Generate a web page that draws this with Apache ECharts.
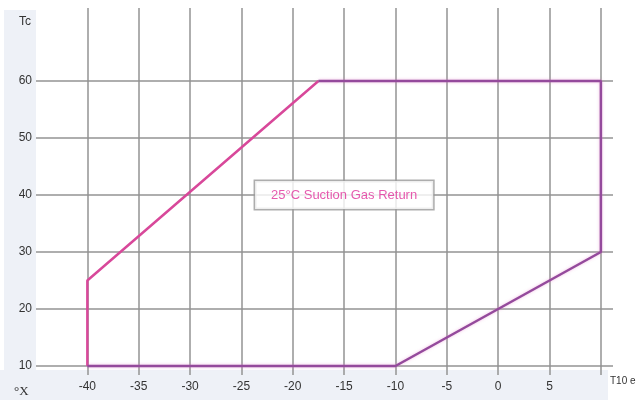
<!DOCTYPE html>
<html><head><meta charset="utf-8">
<script src="https://cdn.jsdelivr.net/npm/echarts@6/dist/echarts.min.js"></script>
<style>html,body{margin:0;padding:0;background:#fff}#c{width:638px;height:400px}</style>
</head><body><div id="c"></div>
<script>
const xTicks = [-40, -35, -30, -25, -20, -15, -10, -5, 0, 5, 10];
const xLabels = [-40, -35, -30, -25, -20, -15, -10, -5, 0, 5];
const yTicks = [10, 20, 30, 40, 50, 60];
const pinkPath = [[-40, 10], [-40, 25], [-17.5, 60]];
const purplePath = [[-17.5, 60], [10, 60], [10, 30], [-10, 10], [-40, 10]];
const annotation = { x: -15, y: 40, text: '25°C Suction Gas Return' };

const chart = echarts.init(document.getElementById('c'));
const gridColor = '#939393';
chart.setOption({
  animation: false,
  graphic: [
    { type: 'rect', z: -10, shape: { x: 4, y: 10, width: 32, height: 390 }, style: { fill: '#eef1f7' } },
    { type: 'rect', z: -10, shape: { x: 0, y: 370, width: 608, height: 30 }, style: { fill: '#eef1f7' } },
    { type: 'text', left: 19, top: 16, style: { text: 'Tc', font: '12px "Liberation Sans", Arial', fill: '#333' } },
    { type: 'text', left: 14, top: 385, style: { text: '°X', font: '13px "Liberation Serif", serif', fill: '#333' } },
    { type: 'text', left: 610, top: 376, style: { text: 'T10 e', font: '10px "Liberation Sans", Arial', fill: '#333' } }
  ],
  grid: { left: 36, right: 25, top: 8, bottom: 25, containLabel: false },
  xAxis: {
    type: 'value', min: -45, max: 11.18,
    axisLine: { show: false }, axisTick: { show: false }, splitLine: { show: false },
    axisLabel: { customValues: xLabels, color: '#333', fontSize: 12, fontFamily: '"Liberation Sans", Arial', margin: 6 }
  },
  yAxis: {
    type: 'value', min: 8.42, max: 72.8,
    axisLine: { show: false }, axisTick: { show: false }, splitLine: { show: false },
    axisLabel: { customValues: yTicks, color: '#333', fontSize: 12, fontFamily: '"Liberation Sans", Arial', margin: 4 }
  },
  series: [
    {
      type: 'line', data: [], silent: true,
      markLine: {
        silent: true, symbol: 'none', label: { show: false },
        lineStyle: { color: gridColor, width: 1.5, type: 'solid' },
        data: xTicks.map(v => ({ xAxis: v })).concat(yTicks.map(v => ({ yAxis: v })))
      }
    },
    {
      type: 'line', data: pinkPath, symbol: 'none', z: 5,
      lineStyle: { color: '#d8489a', width: 2.5 }
    },
    {
      type: 'line', data: purplePath, symbol: 'none', z: 5,
      lineStyle: { color: '#944a9c', width: 2.5, shadowColor: 'rgba(230,120,200,0.5)', shadowBlur: 3 }
    },
    {
      type: 'scatter', data: [[annotation.x, annotation.y]], symbolSize: 0, z: 10,
      label: {
        show: true, position: 'inside', formatter: annotation.text,
        color: '#e0309a', fontSize: 13, fontFamily: '"Liberation Sans", Arial',
        backgroundColor: '#fff', borderColor: '#999', borderWidth: 1.5,
        padding: [8, 16, 7, 16]
      }
    }
  ]
});
</script></body></html>
